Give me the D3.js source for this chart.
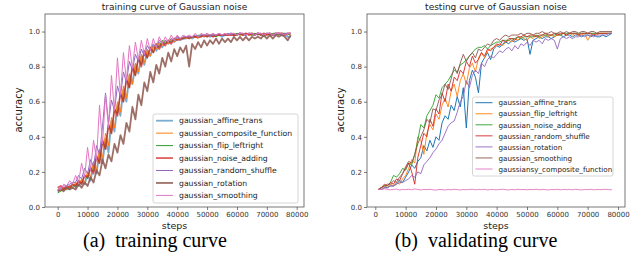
<!DOCTYPE html>
<html>
<head>
<meta charset="utf-8">
<script src="https://cdn.jsdelivr.net/npm/d3@7"></script>
<style>
  body { margin: 0; background: #fff; }
  svg { display: block; }
</style>
</head>
<body>
<svg width="644" height="258"></svg>
<script>
// training curves, one value every 1000 steps from 0 to 78000
let trainSteps = d3.range(0, 79000, 1000);

let trainAffine = [.09,.10,.11,.10,.12,.11,.13,.12,.15,.13,.18,.15,.24,.19,.31,.25,.39,.31,.49,.43,
  .58,.52,.67,.60,.75,.70,.81,.76,.86,.81,.89,.86,.92,.89,.93,.91,.94,.93,.95,.94,
  .96,.95,.96,.96,.97,.96,.97,.97,.98,.97,.98,.97,.98,.98,.98,.97,.98,.98,.99,.98,
  .98,.99,.98,.98,.99,.98,.98,.99,.98,.98,.99,.98,.98,.98,.99,.98,.98,.97,.97];
let trainComposite = [.10,.09,.11,.10,.12,.11,.14,.12,.16,.14,.20,.17,.26,.21,.33,.28,.42,.35,.51,.45,
  .60,.54,.69,.62,.76,.70,.82,.77,.87,.82,.90,.86,.92,.90,.94,.92,.95,.93,.96,.94,
  .96,.95,.97,.96,.97,.97,.97,.96,.98,.97,.98,.98,.97,.98,.98,.98,.99,.98,.98,.98,
  .99,.98,.98,.99,.98,.98,.99,.98,.99,.98,.98,.99,.98,.99,.98,.99,.98,.99,.98];
let trainFlip = [.08,.09,.10,.11,.10,.13,.11,.15,.13,.18,.16,.23,.20,.29,.25,.38,.33,.47,.42,.56,
  .53,.65,.60,.73,.68,.80,.75,.85,.81,.89,.85,.91,.88,.93,.91,.95,.93,.95,.94,.96,
  .97,.96,.96,.97,.96,.97,.97,.98,.97,.98,.97,.98,.98,.97,.98,.98,.98,.98,.99,.98,
  .99,.98,.99,.98,.99,.98,.99,.98,.99,.97,.99,.98,.99,.99,.98,.99,.99,.98,.99];
let trainNoise = [.11,.12,.10,.12,.11,.13,.12,.15,.13,.18,.17,.22,.19,.29,.25,.38,.33,.47,.42,.56,
  .52,.65,.60,.73,.68,.80,.75,.85,.80,.89,.85,.91,.88,.93,.90,.94,.92,.95,.93,.96,
  .95,.96,.96,.97,.96,.97,.97,.97,.97,.98,.97,.98,.97,.98,.98,.98,.98,.98,.98,.98,
  .98,.99,.98,.99,.98,.99,.98,.99,.98,.99,.98,.99,.98,.99,.99,.99,.98,.99,.99];
let trainShuffle = [.10,.11,.12,.12,.13,.14,.14,.18,.16,.22,.19,.27,.23,.35,.30,.46,.65,.48,.61,.55,
  .69,.63,.77,.71,.83,.78,.87,.83,.90,.86,.92,.89,.93,.91,.95,.93,.95,.94,.96,.95,
  .97,.96,.97,.97,.97,.97,.98,.97,.98,.98,.98,.98,.98,.98,.99,.98,.98,.99,.98,.99,
  .98,.99,.99,.98,.99,.99,.98,.99,.99,.98,.99,.99,.98,.99,.99,.98,.99,.99,.99];
let trainRotation = [.09,.10,.09,.11,.10,.11,.10,.13,.11,.14,.12,.17,.14,.21,.18,.27,.22,.30,.26,.36,
  .31,.41,.36,.48,.43,.57,.50,.64,.58,.71,.66,.77,.71,.81,.76,.85,.80,.88,.83,.90,
  .86,.91,.88,.92,.80,.93,.90,.94,.91,.95,.92,.95,.93,.96,.93,.96,.94,.96,.94,.97,
  .95,.97,.95,.97,.95,.97,.96,.97,.96,.98,.96,.98,.96,.98,.97,.98,.97,.95,.98];
let trainSmoothing = [.11,.10,.13,.12,.15,.13,.18,.14,.25,.17,.34,.21,.38,.27,.58,.36,.64,.45,.75,.55,
  .85,.64,.88,.72,.92,.79,.94,.84,.95,.87,.96,.89,.96,.91,.97,.93,.97,.94,.98,.95,
  .98,.96,.98,.97,.98,.97,.99,.97,.99,.98,.99,.98,.99,.98,.99,.98,.99,.98,.99,.99,
  .98,.99,.99,.98,.99,.99,.98,.99,.99,.98,.99,.99,.98,.99,.99,.99,.98,.99,.99];

// validation curves, one value every 1000 steps from 1000 to 78000
let testSteps = d3.range(1000, 79000, 1000);

let testAffine = [.10,.10,.11,.11,.12,.12,.13,.15,.14,.17,.20,.24,.22,.26,.28,.35,.32,.38,.34,.40,
  .38,.48,.52,.50,.58,.55,.63,.57,.68,.45,.72,.78,.74,.65,.82,.85,.88,.84,.90,.92,
  .91,.93,.94,.93,.95,.94,.95,.96,.95,.96,.87,.95,.96,.97,.96,.97,.97,.96,.97,.98,
  .98,.97,.98,.98,.97,.98,.98,.97,.98,.98,.97,.98,.97,.97,.98,.97,.98,.99];
let testFlip = [.10,.11,.12,.11,.13,.12,.14,.13,.16,.18,.22,.27,.25,.40,.38,.30,.42,.47,.44,.53,
  .50,.58,.62,.57,.66,.70,.63,.72,.76,.70,.79,.82,.77,.85,.88,.85,.89,.90,.91,.92,
  .93,.92,.94,.95,.94,.96,.95,.97,.96,.95,.97,.96,.98,.96,.97,.98,.97,.98,.97,.98,
  .98,.99,.98,.99,.98,.99,.98,.98,.99,.95,.98,.99,.98,.99,.99,.99,.99,.99];
let testNoise = [.10,.11,.12,.12,.14,.18,.17,.19,.22,.21,.25,.24,.30,.38,.47,.45,.52,.55,.58,.64,
  .62,.68,.70,.72,.75,.78,.77,.81,.82,.84,.86,.88,.90,.91,.91,.92,.90,.92,.93,.94,
  .94,.95,.95,.95,.96,.96,.97,.96,.97,.97,.97,.97,.98,.97,.98,.98,.98,.98,.98,.99,
  .98,.99,.99,.99,.99,.99,.99,.99,.99,.99,.99,.99,.99,.99,.99,.99,.99,.99];
let testShuffle = [.10,.11,.13,.12,.14,.13,.16,.15,.19,.22,.25,.20,.13,.28,.35,.42,.40,.50,.46,.56,
  .53,.65,.60,.70,.66,.74,.72,.78,.76,.83,.80,.86,.82,.84,.88,.86,.90,.89,.91,.93,
  .92,.95,.94,.96,.96,.95,.97,.97,.98,.97,.98,.98,.97,.98,.98,.99,.98,.98,.99,.98,
  .99,.99,.98,.99,.99,.99,.98,.99,.99,.99,.99,.98,.99,.99,.99,.99,.99,.99];
let testRotation = [.10,.10,.11,.11,.12,.12,.13,.14,.14,.15,.16,.18,.17,.20,.19,.24,.26,.28,.31,.33,
  .36,.38,.42,.46,.48,.49,.54,.60,.63,.72,.68,.75,.78,.76,.82,.80,.84,.86,.85,.87,
  .89,.88,.90,.91,.89,.92,.90,.93,.92,.94,.92,.95,.94,.95,.93,.96,.95,.96,.95,.90,
  .96,.97,.96,.97,.96,.97,.97,.98,.97,.98,.98,.97,.98,.98,.98,.98,.99,.99];
let testSmoothing = [.10,.11,.12,.13,.13,.15,.14,.17,.19,.23,.26,.25,.30,.36,.40,.44,.50,.48,.56,.55,
  .61,.64,.70,.67,.73,.80,.76,.82,.87,.83,.86,.88,.85,.90,.89,.91,.93,.92,.95,.96,
  .95,.97,.98,.97,.98,.98,.98,.99,.98,.99,.99,.98,.99,.99,1.0,.99,.99,1.0,.99,.99,
  1.0,.99,1.0,.99,1.0,1.0,.99,1.0,1.0,.99,1.0,1.0,.99,1.0,1.0,1.0,1.0,1.0];
let testComposite = [.100,.100,.104,.100,.098,.100,.102,.097,.100,.099,.101,.098,.103,.100,.097,.100,.099,.101,.098,.096,
  .100,.099,.097,.100,.098,.101,.099,.097,.100,.098,.100,.101,.098,.100,.099,.101,.097,.100,.099,.098,
  .100,.101,.099,.097,.100,.098,.101,.099,.100,.098,.100,.099,.101,.098,.100,.099,.097,.100,.099,.101,
  .098,.100,.099,.100,.098,.101,.099,.097,.100,.099,.101,.098,.100,.099,.100,.101,.099,.098];

let trainNames = ["gaussian_affine_trans", "gaussian_composite_function", "gaussian_flip_leftright",
  "gaussian_noise_adding", "gaussian_random_shuffle", "gaussian_rotation", "gaussian_smoothing"];
let testNames = ["gaussian_affine_trans", "gaussian_flip_leftright", "gaussian_noise_adding",
  "gaussian_random_shuffle", "gaussian_rotation", "gaussian_smoothing", "gaussiansy_composite_function"];

let yTicks = [0, 0.2, 0.4, 0.6, 0.8, 1.0];
let xTicks = [0, 10000, 20000, 30000, 40000, 50000, 60000, 70000, 80000];

let tab10 = ["#1f77b4", "#ff7f0e", "#2ca02c", "#d62728", "#9467bd", "#8c564b", "#e377c2"];

let svg = d3.select("svg");

function panel(opts) {
    let x = d3.scaleLinear().domain(opts.xDomain).range([opts.left, opts.right]);
    let y = d3.scaleLinear().domain([0, 1.1]).range([207, 14]);

    let g = svg.append("g");

    // lines
    let line = d3.line()
        .x((d) => x(d[0]))
        .y((d) => y(d[1]));

    opts.series.forEach((s, i) => {
        g.append("path")
            .datum(opts.steps.map((st, j) => [st, s[j]]))
            .attr("d", line)
            .attr("fill", "none")
            .attr("stroke", tab10[i])
            .attr("stroke-width", opts.widths[i])
            .attr("stroke-opacity", opts.alphas[i])
            .attr("stroke-linejoin", "round")
    });

    // frame
    g.append("rect")
        .attr("x", opts.left)
        .attr("y", 14)
        .attr("width", opts.right - opts.left)
        .attr("height", 193)
        .attr("fill", "none")
        .attr("stroke", "#555")
        .attr("stroke-width", 0.8)

    // axes
    let xAxis = d3.axisBottom(x).tickValues(xTicks).tickSize(3).tickPadding(2).tickFormat(d3.format("d"));
    let yAxis = d3.axisLeft(y).tickValues(yTicks).tickSize(3).tickPadding(2).tickFormat(d3.format(".1f"));

    let gx = g.append("g").attr("transform", "translate(0,207)").call(xAxis);
    let gy = g.append("g").attr("transform", `translate(${opts.left},0)`).call(yAxis);
    [gx, gy].forEach((a) => {
        a.select(".domain").remove();
        a.selectAll("line").attr("stroke", "#444").attr("stroke-width", 0.7);
        a.selectAll("text")
            .style("font-family", "DejaVu Sans")
            .style("font-size", "7px")
            .attr("fill", "#333");
    });

    let cx = (opts.left + opts.right) / 2;

    // title
    g.append("text")
        .attr("x", cx)
        .attr("y", 9.5)
        .attr("text-anchor", "middle")
        .style("font-family", "DejaVu Sans")
        .style("font-size", "9px")
        .attr("fill", "#222")
        .text(opts.title)

    g.append("text")
        .attr("x", cx)
        .attr("y", 228.5)
        .attr("text-anchor", "middle")
        .style("font-family", "DejaVu Sans")
        .style("font-size", "9.5px")
        .attr("fill", "#222")
        .text("steps")

    g.append("text")
        .attr("transform", `translate(${opts.left - 23},110) rotate(-90)`)
        .attr("text-anchor", "middle")
        .style("font-family", "DejaVu Sans")
        .style("font-size", "10px")
        .attr("fill", "#222")
        .text("accuracy")

    // caption
    g.append("text")
        .attr("x", opts.capX)
        .attr("y", 247)
        .attr("text-anchor", "middle")
        .style("font-family", "Liberation Serif")
        .style("font-size", "20px")
        .style("white-space", "pre")
        .attr("fill", "#000")
        .text(opts.caption)

    // legend
    let lg = opts.legend;
    g.append("rect")
        .attr("x", lg.x)
        .attr("y", lg.y)
        .attr("width", lg.w)
        .attr("height", lg.h)
        .attr("rx", 2)
        .attr("fill", "#fff")
        .attr("fill-opacity", 0.85)
        .attr("stroke", "#ccc")
        .attr("stroke-width", 0.8)

    opts.names.forEach((n, i) => {
        let yy = lg.y + lg.first + i * lg.step;
        g.append("line")
            .attr("x1", lg.x + 3)
            .attr("x2", lg.x + 20)
            .attr("y1", yy)
            .attr("y2", yy)
            .attr("stroke", tab10[i])
            .attr("stroke-width", opts.widths[i])
            .attr("stroke-opacity", opts.alphas[i])
        g.append("text")
            .attr("x", lg.x + 26)
            .attr("y", yy + 2.7)
            .style("font-family", "DejaVu Sans")
            .style("font-size", lg.font)
            .attr("fill", "#222")
            .text(n)
    });
}

panel({
    left: 45, right: 304,
    xDomain: [-4250, 82440],
    steps: trainSteps,
    series: [trainAffine, trainComposite, trainFlip, trainNoise, trainShuffle, trainRotation, trainSmoothing],
    widths: [1.8, 1, 1, 1.8, 1, 1.8, 1],
    alphas: [0.6, 1, 1, 0.75, 1, 0.85, 1],
    names: trainNames,
    title: "training curve of Gaussian noise",
    caption: "(a)  training curve",
    capX: 155,
    legend: {x: 153, y: 114, w: 145, h: 89, first: 6.7, step: 12.45, font: "7.7px"}
});

panel({
    left: 367, right: 625,
    xDomain: [-2736, 82300],
    steps: testSteps,
    series: [testAffine, testFlip, testNoise, testShuffle, testRotation, testSmoothing, testComposite],
    widths: [1, 1, 1, 1, 1, 1, 1],
    alphas: [1, 0.9, 0.9, 0.9, 0.9, 0.9, 0.9],
    names: testNames,
    title: "testing curve of Gaussian noise",
    caption: "(b)  validating curve",
    capX: 476,
    legend: {x: 472.5, y: 97, w: 140.5, h: 79, first: 5.7, step: 11.05, font: "7.2px"}
});
</script>
</body>
</html>
